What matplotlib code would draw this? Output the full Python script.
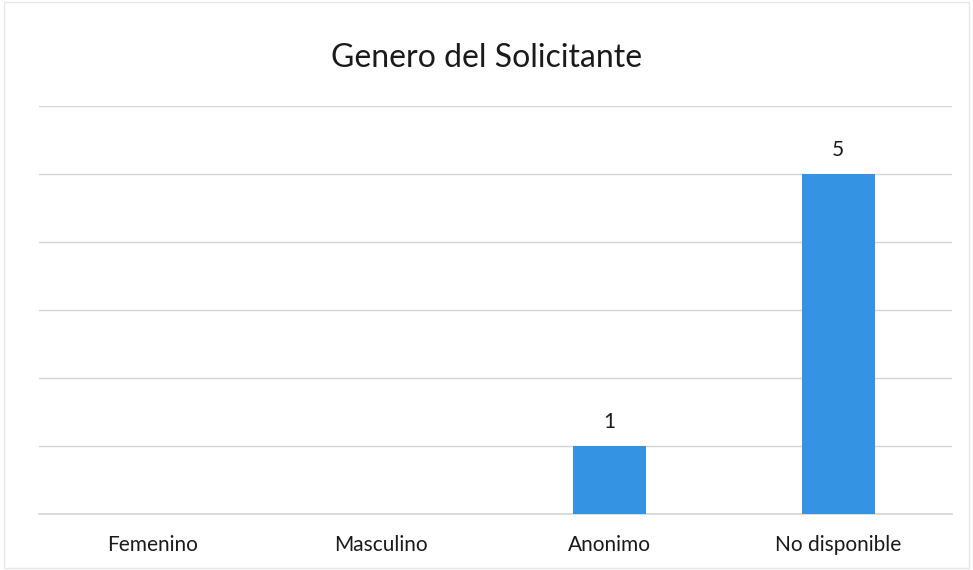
import matplotlib.pyplot as plt
from matplotlib.patches import Rectangle

categorias = ["Femenino", "Masculino", "Anonimo", "No disponible"]
valores = [0, 0, 1, 5]

plt.rcParams["font.family"] = ["Lato", "DejaVu Sans"]

fig = plt.figure(figsize=(9.73, 5.70), dpi=100)
ax = fig.add_axes([38.5 / 973, 56 / 570, 914 / 973, 408 / 570])

x = range(len(categorias))
bars = ax.bar(x, valores, width=0.32, color="#3493e3", zorder=3)

ax.set_xlim(-0.5, len(categorias) - 0.5)
ax.set_ylim(0, 6)
ax.set_yticks(range(0, 7))
ax.set_yticklabels([])
ax.tick_params(axis="y", length=0)
ax.grid(axis="y", color="#d4d4d4", linewidth=1, zorder=0)
ax.axhline(0, color="#d4d4d4", linewidth=1.2, zorder=2, clip_on=False)
ax.set_xticks(list(x))
ax.set_xticklabels(categorias, fontsize=15, color="#1a1a1a")
ax.tick_params(axis="x", length=0, pad=15)
for s in ax.spines.values():
    s.set_visible(False)

# etiquetas solo para barras con valor
for b, v in zip(bars, valores):
    if v > 0:
        ax.annotate(str(v), (b.get_x() + b.get_width() / 2, v),
                    xytext=(0, 10), textcoords="offset points",
                    ha="center", va="bottom", fontsize=15, color="#1a1a1a")

fig.text(0.5, 0.898, "Genero del Solicitante", ha="center", va="center",
         fontsize=23, color="#1a1a1a")

fig.patches.append(Rectangle((0.004, 0.004), 0.992, 0.992, transform=fig.transFigure,
                             fill=False, edgecolor="#e6e6e6", linewidth=1))

fig.savefig("out.png", dpi=100)
